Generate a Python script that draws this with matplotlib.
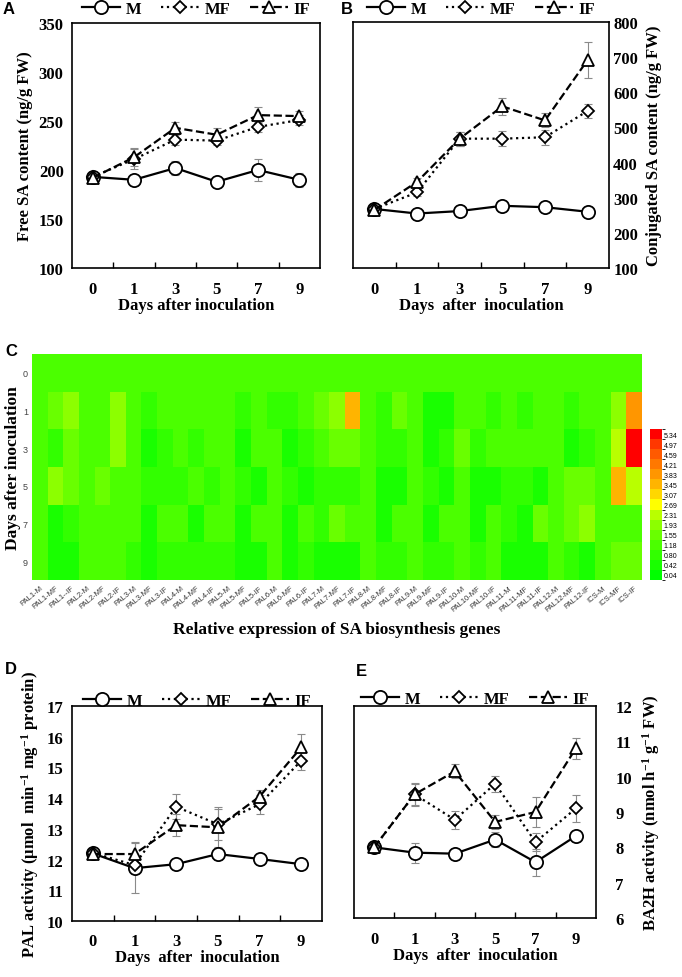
import numpy as np
import matplotlib
matplotlib.use("Agg")
import matplotlib.pyplot as plt
from matplotlib.colors import ListedColormap, BoundaryNorm
from matplotlib.cm import ScalarMappable

plt.rcParams["font.family"] = ["Liberation Serif", "DejaVu Serif"]
plt.rcParams["font.weight"] = "bold"
plt.rcParams["axes.labelweight"] = "bold"
plt.rcParams["mathtext.default"] = "regular"

# ---- data ----
days = ["0", "1", "3", "5", "7", "9"]
series = ["M", "MF", "IF"]

free_m = [193, 190, 202, 188, 200, 190]
free_mf = [193, 211, 231, 230, 244, 251]
free_if = [192, 213, 243, 236, 256, 255]
free_m_err = [3, 4, 7, 4, 11, 7]
free_mf_err = [3, 10, 5, 4, 5, 5]
free_if_err = [3, 9, 6, 7, 8, 5]

conj_m = [268, 255, 262, 277, 273, 260]
conj_mf = [268, 315, 468, 468, 472, 547]
conj_if = [265, 345, 468, 560, 520, 692]
conj_m_err = [5, 5, 5, 6, 6, 5]
conj_mf_err = [5, 10, 20, 22, 22, 20]
conj_if_err = [5, 10, 20, 25, 20, 52]

pal_m = [12.2, 11.72, 11.85, 12.18, 12.02, 11.85]
pal_mf = [12.22, 11.82, 13.72, 13.15, 13.8, 15.22]
pal_if = [12.18, 12.18, 13.12, 13.05, 14.05, 15.65]
pal_m_err = [0.05, 0.82, 0.08, 0.2, 0.08, 0.08]
pal_mf_err = [0.05, 0.3, 0.4, 0.5, 0.3, 0.3]
pal_if_err = [0.05, 0.4, 0.35, 0.65, 0.2, 0.45]

ba2h_m = [8.0, 7.85, 7.82, 8.22, 7.58, 8.32]
ba2h_mf = [8.0, 9.5, 8.78, 9.8, 8.15, 9.1]
ba2h_if = [8.0, 9.5, 10.15, 8.72, 9.0, 10.8]
ba2h_m_err = [0.15, 0.28, 0.08, 0.2, 0.38, 0.08]
ba2h_mf_err = [0.15, 0.3, 0.25, 0.22, 0.25, 0.38]
ba2h_if_err = [0.1, 0.33, 0.2, 0.2, 0.42, 0.3]

genes = ["PAL1-M", "PAL1-MF", "PAL1--IF", "PAL2-M", "PAL2-MF", "PAL2-IF",
         "PAL3-M", "PAL3-MF", "PAL3-IF", "PAL4-M", "PAL4-MF", "PAL4-IF",
         "PAL5-M", "PAL5-MF", "PAL5-IF", "PAL6-M", "PAL6-MF", "PAL6-IF",
         "PAL7-M", "PAL7-MF", "PAL7-IF", "PAL8-M", "PAL8-MF", "PAL8-IF",
         "PAL9-M", "PAL9-MF", "PAL9-IF", "PAL10-M", "PAL10-MF", "PAL10-IF",
         "PAL11-M", "PAL11-MF", "PAL11-IF", "PAL12-M", "PAL12-MF", "PAL12-IF",
         "ICS-M", "ICS-MF", "ICS-IF"]

# rows = days 0,1,3,5,7,9 ; columns = genes
expr = [
    [1.0] * 39,
    [1.0, 1.5, 1.9, 1.0, 1.0, 1.9, 1.0, 0.7, 1.0, 1.0, 1.0, 1.0, 1.0, 0.7, 1.0, 0.7, 0.7, 1.0, 1.5, 1.9,
     3.4, 1.0, 0.7, 1.5, 1.0, 0.3, 0.3, 1.0, 1.0, 0.7, 1.0, 0.7, 1.0, 1.0, 0.7, 1.0, 1.0, 1.9, 3.9],
    [1.0, 0.7, 1.5, 1.0, 1.0, 1.9, 1.0, 0.3, 0.7, 1.0, 0.7, 1.0, 1.0, 0.3, 1.0, 1.0, 0.5, 0.7, 1.0, 1.5,
     1.5, 1.0, 0.7, 0.7, 1.0, 0.3, 0.7, 1.5, 0.7, 1.0, 1.0, 1.0, 1.0, 1.0, 0.3, 0.7, 1.0, 2.45, 5.3],
    [1.0, 1.9, 1.5, 1.0, 1.5, 1.0, 1.0, 0.7, 0.7, 0.85, 1.0, 0.7, 1.0, 0.7, 0.5, 1.0, 0.7, 0.5, 0.7, 0.7,
     0.7, 1.0, 0.5, 0.5, 1.0, 0.7, 0.5, 1.0, 0.5, 0.5, 0.7, 0.7, 0.3, 1.0, 1.5, 1.5, 1.0, 3.5, 2.3],
    [1.0, 0.3, 0.7, 1.0, 1.0, 1.0, 1.0, 0.3, 1.0, 1.0, 0.3, 1.0, 1.0, 0.5, 1.0, 1.0, 0.3, 1.0, 0.7, 1.5,
     1.0, 1.0, 0.3, 1.0, 1.0, 0.3, 1.0, 1.0, 0.5, 1.0, 0.7, 0.3, 1.5, 1.0, 1.5, 1.9, 1.0, 1.0, 1.0],
    [1.0, 0.3, 0.3, 1.0, 1.0, 1.0, 0.7, 0.3, 0.7, 0.7, 0.7, 0.7, 0.7, 0.3, 0.3, 1.0, 0.3, 0.7, 0.3, 0.3,
     0.3, 1.0, 0.7, 0.7, 1.0, 0.7, 0.7, 1.0, 0.7, 1.0, 0.3, 0.3, 0.3, 1.0, 0.7, 0.3, 1.0, 1.5, 1.5],
]

levels = [0.04, 0.42, 0.80, 1.18, 1.55, 1.93, 2.31, 2.69, 3.07, 3.45, 3.83, 4.21, 4.59, 4.97, 5.34]
level_colors = ["#00ff00", "#19ff00", "#32ff00", "#4bff00", "#69ff00", "#8cff00", "#b9ff00", "#ffff00",
                "#ffd700", "#ffb400", "#ff9600", "#ff7800", "#ff5a00", "#ff3700", "#ff0000"]

# ---- layout (pixel boxes) ----
W, H = 682, 978
fig = plt.figure(figsize=(W / 100, H / 100), dpi=100)


def box(l, t, r, b):
    return [l / W, 1 - b / H, (r - l) / W, (b - t) / H]


styles = {
    "M": dict(ls="-", marker="o", ms=9.5),
    "MF": dict(ls=":", marker="D", ms=6.5),
    "IF": dict(ls="--", marker="^", ms=9),
}


def line_panel(ax, vals, errs, ylim, yticks, ylabel, leg_y, right=False,
               xlabel="Days  after  inoculation"):
    x = np.arange(len(days))
    for name, v, e in zip(series, vals, errs):
        ax.errorbar(x, v, yerr=e, fmt="none", ecolor="#8a8a8a", elinewidth=0.8,
                    capsize=3, capthick=0.8, zorder=1)
        ax.plot(x, v, color="black", lw=1.6, mfc="white", mec="black", mew=1.3,
                zorder=3, label=name, **styles[name])
    ax.set_xlim(-0.5, 5.5)
    ax.set_ylim(*ylim)
    ax.set_yticks(yticks)
    ax.set_xticks(x)
    ax.set_xticklabels(days)
    ax.set_xticks(x[:-1] + 0.5, minor=True)
    ax.tick_params(axis="x", which="major", length=0, pad=9, labelsize=12)
    ax.tick_params(axis="x", which="minor", direction="in", length=4, width=1)
    ax.tick_params(axis="y", length=0, pad=6, labelsize=12)
    for s in ax.spines.values():
        s.set_linewidth(1.2)
    ax.set_xlabel(xlabel, fontsize=12, labelpad=0)
    if right:
        ax.yaxis.tick_right()
        ax.yaxis.set_label_position("right")
        ax.set_ylabel(ylabel, fontsize=12, labelpad=6, rotation=90)
    else:
        ax.set_ylabel(ylabel, fontsize=12, labelpad=4)
    ax.legend(loc="center", bbox_to_anchor=(0.5, leg_y), ncol=3, frameon=False,
              fontsize=12, handlelength=2.3, columnspacing=1.2, handletextpad=0.3,
              borderaxespad=0, borderpad=0)


axA = fig.add_axes(box(72, 24, 320, 269))
line_panel(axA, [free_m, free_mf, free_if], [free_m_err, free_mf_err, free_if_err],
           (100, 350), range(100, 351, 50), "Free SA content (ng/g FW)", 1.057,
           xlabel="Days after inoculation")

axB = fig.add_axes(box(353, 23, 609, 269))
line_panel(axB, [conj_m, conj_mf, conj_if], [conj_m_err, conj_mf_err, conj_if_err],
           (100, 800), range(100, 801, 100), "Conjugated SA content (ng/g FW)", 1.053,
           right=True)
axB.tick_params(axis="y", pad=3)

axD = fig.add_axes(box(72, 707, 322, 922))
line_panel(axD, [pal_m, pal_mf, pal_if], [pal_m_err, pal_mf_err, pal_if_err],
           (10, 17), range(10, 18), "PAL activity (μmol  min$^{-1}$ mg$^{-1}$ protein)", 1.025)

axE = fig.add_axes(box(354, 707, 596, 919))
line_panel(axE, [ba2h_m, ba2h_mf, ba2h_if], [ba2h_m_err, ba2h_mf_err, ba2h_if_err],
           (6, 12), range(6, 13), "BA2H activity (nmol h$^{-1}$ g$^{-1}$ FW)", 1.035, right=True)
axE.tick_params(axis="y", pad=14)

# ---- heatmap ----
cmap = ListedColormap(level_colors)
lv = np.array(levels)
bounds = np.concatenate([[lv[0] - 0.19], (lv[:-1] + lv[1:]) / 2, [lv[-1] + 0.19]])
norm = BoundaryNorm(bounds, cmap.N)

axC = fig.add_axes(box(32, 355, 642, 581))
axC.imshow(np.array(expr), cmap=cmap, norm=norm, aspect="auto", interpolation="nearest")
for s in axC.spines.values():
    s.set_visible(False)
axC.set_yticks(range(len(days)))
axC.set_yticklabels(days, family="Liberation Sans", fontweight="normal", fontsize=6.5,
                    color="#444444")
axC.set_xticks(range(len(genes)))
axC.set_xticklabels(genes, rotation=40, ha="right", rotation_mode="anchor",
                    family="Liberation Sans", fontweight="normal", fontsize=5.5, color="#333333")
axC.tick_params(length=0, pad=3)
axC.set_ylabel("Days after inoculation", fontsize=12.5, labelpad=1)
axC.set_xlabel("Relative expression of SA biosynthesis genes", fontsize=12.5, labelpad=6)

cax = fig.add_axes(box(650, 430, 662, 581))
cb = fig.colorbar(ScalarMappable(norm=norm, cmap=cmap), cax=cax, ticks=levels)
cb.outline.set_visible(False)
cb.ax.set_yticklabels([f"{v:.2f}" for v in levels], family="Liberation Sans",
                      fontweight="normal", fontsize=5)
cb.ax.tick_params(length=0, pad=1)

# ---- panel letters ----
for letter, (px, py) in {"A": (3, 10), "B": (341, 10), "C": (5, 352),
                         "D": (5, 670), "E": (356, 672)}.items():
    fig.text(px / W, 1 - py / H, letter, family="Liberation Sans", fontweight="bold",
             fontsize=12, va="center", ha="left")

fig.savefig("out.png", dpi=100)
